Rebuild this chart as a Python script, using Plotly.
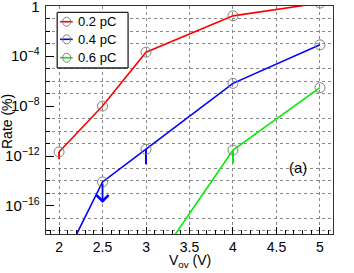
import math
import plotly.graph_objects as go

# Data
vov_02 = [2.0, 2.5, 3.0, 4.0, 5.0]
rate_02 = [2.1e-12, 1.0e-8, 2.1e-4, 0.17, 1.8]
low_02 = [5.5e-13, None, None, None, None]

vov_04 = [2.0, 2.5, 3.0, 4.0, 5.0]
rate_04 = [8.0e-22, 8.3e-15, 3.5e-12, 6.6e-7, 8.1e-4]
low_04 = [None, None, 2.2e-13, None, None]
limit_04_x = 2.5
limit_04_tip = 1.7e-16

vov_06 = [3.0, 4.0, 5.0]
rate_06 = [2.0e-22, 3.0e-12, 3.0e-7]
low_06 = [None, 2.6e-13, None]

labels = ["0.2 pC", "0.4 pC", "0.6 pC"]
colors = ["#ff0000", "#0000ff", "#00ee00"]
marker_col = "#808080"


def minus(vals, lows):
    return [v - l if l is not None else 0 for v, l in zip(vals, lows)]


fig = go.Figure()
for xs, ys, lows, name, col in [
    (vov_02, rate_02, low_02, labels[0], colors[0]),
    (vov_04, rate_04, low_04, labels[1], colors[1]),
    (vov_06, rate_06, low_06, labels[2], colors[2]),
]:
    fig.add_trace(go.Scatter(
        x=xs, y=ys, name=name, mode="lines+markers", showlegend=False,
        line=dict(color=col, width=1.6),
        marker=dict(symbol="circle-open", size=10, color=marker_col,
                    line=dict(width=1, color=marker_col)),
        error_y=dict(type="data", symmetric=False,
                     array=[0] * len(xs), arrayminus=minus(ys, lows),
                     color=col, thickness=2, width=0),
    ))

# upper-limit arrow for 0.4 pC at 2.5 V
tail_y = rate_04[vov_04.index(limit_04_x)]
fig.add_annotation(
    x=limit_04_x, y=math.log10(limit_04_tip),
    ax=limit_04_x, ay=math.log10(tail_y),
    xref="x", yref="y", axref="x", ayref="y",
    showarrow=True, arrowhead=4, arrowsize=1.3, arrowwidth=1.8,
    arrowcolor=colors[1], standoff=0, startstandoff=0, text="",
)

fig.add_annotation(
    x=0.915, y=0.245, xref="paper", yref="paper", text="(a)",
    showarrow=False, font=dict(size=15, color="black"),
)
# axis titles
fig.add_annotation(
    x=0.5, y=0, xref="paper", yref="paper", yanchor="top", yshift=-16,
    text="V<sub>ov</sub> (V)", showarrow=False, font=dict(size=14, color="black"),
)
fig.add_annotation(
    x=0, y=0.5, xref="paper", yref="paper", xanchor="center", xshift=-39,
    yshift=-2, textangle=-90,
    text="Rate (%)", showarrow=False, font=dict(size=14, color="black"),
)

# ROOT-style compact legend box
leg_x0, leg_x1, leg_y0, leg_y1 = 0.039, 0.286, 0.728, 0.972
entry_y = [0.931, 0.854, 0.773]
fig.add_shape(type="rect", xref="paper", yref="paper",
              x0=leg_x0, x1=leg_x1, y0=leg_y0, y1=leg_y1,
              line=dict(width=0), fillcolor="white", layer="above")
for (ax0, ay0, ax1, ay1) in [
    (leg_x0, leg_y0, leg_x1, leg_y0),
    (leg_x0, leg_y1, leg_x1, leg_y1),
    (leg_x0, leg_y0, leg_x0, leg_y1),
    (leg_x1, leg_y0, leg_x1, leg_y1),
]:
    fig.add_shape(type="line", xref="paper", yref="paper",
                  x0=ax0, y0=ay0, x1=ax1, y1=ay1,
                  line=dict(color="#222222", width=1.3), layer="above")
for lab, col, ey in zip(labels, colors, entry_y):
    fig.add_shape(type="line", xref="paper", yref="paper",
                  x0=0.049, x1=0.093, y0=ey, y1=ey,
                  line=dict(color=col, width=1.6), layer="above")
    fig.add_shape(type="circle", xref="paper", yref="paper",
                  xsizemode="pixel", ysizemode="pixel",
                  xanchor=0.072, yanchor=ey, x0=-4, x1=4, y0=-4.5, y1=4.5,
                  line=dict(color=marker_col, width=1), layer="above")
    fig.add_annotation(x=0.103, y=ey, xref="paper", yref="paper",
                       xanchor="left", yanchor="middle", text=lab,
                       showarrow=False, font=dict(size=13, color="black"))

font = "Liberation Sans, Arial, sans-serif"
fig.update_layout(
    width=354, height=273,
    margin=dict(l=46, r=21, t=6, b=39),
    paper_bgcolor="white", plot_bgcolor="white",
    font=dict(family=font, size=13, color="black"),
    showlegend=False,
)
fig.update_xaxes(
    range=[1.85, 5.15], tick0=2, dtick=0.5, automargin=False,
    ticks="inside", ticklen=7, tickcolor="black",
    showline=True, mirror=True, linecolor="#333333", linewidth=1,
    showgrid=True, gridcolor="#888888", griddash="dot", gridwidth=1,
    minor=dict(dtick=0.1, ticks="inside", ticklen=4, tickcolor="black", showgrid=False),
    zeroline=False,
    tickfont=dict(size=14),
)
fig.update_yaxes(
    type="log", range=[-18.25, 0.02], dtick=4, tick0=0, automargin=False,
    exponentformat="power", ticklabeloverflow="allow", ticklabelstandoff=3,
    ticks="inside", ticklen=8, tickcolor="black",
    showline=True, mirror=True, linecolor="#333333", linewidth=1,
    showgrid=False,
    minor=dict(dtick=1, ticks="inside", ticklen=4, tickcolor="black",
               showgrid=True, gridcolor="#888888", griddash="dot", gridwidth=1),
    zeroline=False,
    tickfont=dict(size=12),
)

fig.write_html("out.html", config={"displayModeBar": False},
               post_script="document.body.style.margin='0';")
